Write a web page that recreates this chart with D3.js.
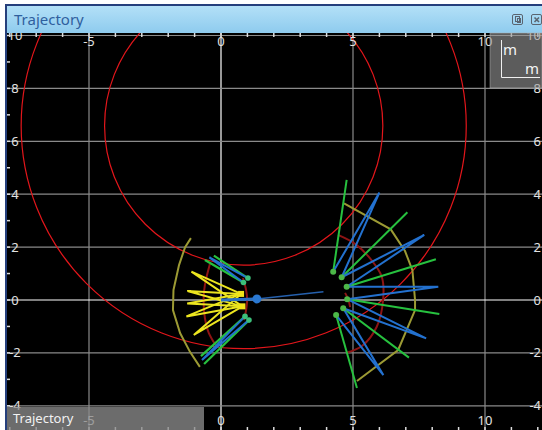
<!DOCTYPE html>
<html><head><meta charset="utf-8">
<script src="https://cdn.jsdelivr.net/npm/d3@7"></script>
<style>
html,body{margin:0;padding:0;background:#fff;overflow:hidden;}
svg{display:block;}
text{font-family:"Noto Sans","DejaVu Sans",sans-serif;}
</style></head><body>
<svg id="c" width="542" height="430"></svg>
<script>
// ---------- data ----------
const xTicks = [-5, 0, 5, 10];
const yTicks = [-4, -2, 0, 2, 4, 6, 8, 10];
const xMinor = [-8,-7,-6,-5,-4,-3,-2,-1,0,1,2,3,4,5,6,7,8,9,10,11,12];
const yMinor = [-4,-3,-2,-1,0,1,2,3,4,5,6,7,8,9,10];

const circleCenter = [0.86, 6.59];
const circleRadii = [8.43, 5.27];

// left cluster
const leftYellowOrigins = [[0.76, 0.23], [0.81, -0.24]];
const leftYellowEnds = [[-1.12, 1.07], [-1.27, 0.34], [-1.28, -0.13], [-1.31, -0.62], [-1.03, -1.32]];
const leftUpperOrigins = [[1.02, 0.83], [0.85, 0.66]];
const leftUpperGreenEnds = [[-0.27, 1.68], [-0.61, 1.51]];
const leftUpperBlueEnd = [-0.44, 1.61];
const leftLowerOrigins = [[0.91, -0.62], [1.06, -0.76]];
const leftLowerGreenEnds = [[-0.76, -2.12], [-0.64, -2.42]];
const leftLowerBlueEnd = [-0.72, -2.27];
const leftOlive = [[-1.14, 2.34], [-1.36, 2.00], [-1.59, 1.32], [-1.80, 0.38], [-1.82, -0.38], [-1.55, -1.25], [-1.17, -1.97], [-0.80, -2.53]];
const leftArcOuter = [[-0.42, 1.36], [-0.61, 0.57], [-0.66, 0], [-0.61, -0.68], [-0.46, -1.25], [-0.15, -1.78]];
const leftArcInner = [[0.83, 0.83], [0.95, 0.38], [0.99, 0], [0.95, -0.38], [0.87, -0.76]];

// trajectory
const trajHead = [[0.0, 0.0], [1.36, 0.04]];
const trajTail = [[1.36, 0.04], [3.88, 0.31]];
const trajDot = [1.36, 0.04];

// right cluster
const rightOrigins = [[4.25, 1.07], [4.57, 0.86], [4.76, 0.50], [4.78, 0.03], [4.63, -0.31], [4.36, -0.57]];
const rightGreenEnds = [[4.76, 4.54], [7.06, 3.32], [8.14, 1.54], [8.27, -0.53], [7.12, -2.18], [5.15, -3.33]];
const rightBlueEnds = [[6.00, 4.06], [7.70, 2.46], [8.23, 0.50], [7.77, -1.45], [6.15, -2.84]];
const rightOlive = [[4.66, 3.65], [6.43, 2.67], [6.97, 1.85], [7.25, 1.13], [7.35, 0], [7.35, -0.38], [6.71, -1.89], [5.15, -3.06]];
const rightArcOuter = [[4.43, 2.46], [5.08, 2.12], [5.64, 1.58], [6.09, 0.88], [6.14, 0], [5.90, -1.01], [5.34, -1.74], [4.76, -1.99]];
const rightArcInner = [[4.70, 0.27], [4.83, 0], [4.89, -0.27]];

// ---------- layout ----------
const svg = d3.select("#c");
const W = 542, H = 430;
const plot = {x0: 7, y0: 33, x1: 542, y1: 430};
const x = d3.scaleLinear().domain([-5, 10]).range([89, 485]);
const y = d3.scaleLinear().domain([-4, 10]).range([405.8, 35.5]);

const defs = svg.append("defs");
const grad = defs.append("linearGradient").attr("id", "tb").attr("x1", 0).attr("y1", 0).attr("x2", 0).attr("y2", 1);
grad.append("stop").attr("offset", "0%").attr("stop-color", "#b3e0f7");
grad.append("stop").attr("offset", "100%").attr("stop-color", "#8ecbee");
defs.append("clipPath").attr("id", "pc").append("rect")
  .attr("x", plot.x0).attr("y", plot.y0).attr("width", plot.x1 - plot.x0).attr("height", plot.y1 - plot.y0);

// window frame
svg.append("rect").attr("x", 0).attr("y", 0).attr("width", W).attr("height", H).attr("fill", "#ffffff");
svg.append("rect").attr("x", 5).attr("y", 4).attr("width", W - 5).attr("height", H - 4).attr("fill", "#253f7c");
svg.append("rect").attr("x", 7).attr("y", 6).attr("width", W - 7).attr("height", 27).attr("fill", "url(#tb)");
svg.append("text").attr("x", 14).attr("y", 25).attr("font-size", 15).attr("fill", "#2f5f9e").text("Trajectory");
// title icons
const ic = svg.append("g").attr("fill", "none").attr("stroke", "#5a6470").attr("stroke-width", 1);
ic.append("rect").attr("x", 512.5).attr("y", 14.5).attr("width", 10).attr("height", 10).attr("rx", 1.5);
ic.append("rect").attr("x", 515.5).attr("y", 16.5).attr("width", 4).attr("height", 5);
ic.append("rect").attr("x", 517.5).attr("y", 18.5).attr("width", 3).attr("height", 4);
ic.append("rect").attr("x", 531.5).attr("y", 14.5).attr("width", 10).attr("height", 10).attr("rx", 1.5);
ic.append("path").attr("d", "M534.5,17.5L539,22M539,17.5L534.5,22").attr("stroke-width", 1.6);

// plot background
svg.append("rect").attr("x", plot.x0).attr("y", plot.y0).attr("width", plot.x1 - plot.x0).attr("height", plot.y1 - plot.y0).attr("fill", "#000");

const g = svg.append("g").attr("clip-path", "url(#pc)");

// grid
g.selectAll(".gx").data(xTicks).join("line")
  .attr("x1", d => x(d)).attr("x2", d => x(d)).attr("y1", plot.y0).attr("y2", plot.y1)
  .attr("stroke", d => d === 0 ? "#ffffff" : "#8a8a8a").attr("stroke-width", 1.2);
g.selectAll(".gy").data(yTicks).join("line")
  .attr("y1", d => y(d)).attr("y2", d => y(d)).attr("x1", plot.x0).attr("x2", plot.x1)
  .attr("stroke", d => d === 0 ? "#ffffff" : "#8a8a8a").attr("stroke-width", 1.2);
// minor ticks
g.selectAll(".mt").data(xMinor).join("line")
  .attr("x1", d => x(d)).attr("x2", d => x(d)).attr("y1", plot.y0).attr("y2", plot.y0 + 4)
  .attr("stroke", "#dddddd").attr("stroke-width", 1.5);
g.selectAll(".mb").data(xMinor).join("line")
  .attr("x1", d => x(d)).attr("x2", d => x(d)).attr("y1", plot.y1 - 3).attr("y2", plot.y1)
  .attr("stroke", "#dddddd").attr("stroke-width", 1.5);
g.selectAll(".ml").data(yMinor).join("line")
  .attr("y1", d => y(d)).attr("y2", d => y(d)).attr("x1", plot.x0).attr("x2", plot.x0 + 3)
  .attr("stroke", "#dddddd").attr("stroke-width", 1.5);

// red circles
g.selectAll(".circ").data(circleRadii).join("ellipse")
  .attr("cx", x(circleCenter[0])).attr("cy", y(circleCenter[1]))
  .attr("rx", r => x(circleCenter[0] + r) - x(circleCenter[0]))
  .attr("ry", r => y(circleCenter[1] - r) - y(circleCenter[1]))
  .attr("fill", "none").attr("stroke", "#e3161b").attr("stroke-width", 1.2);

const lineC = d3.line().x(d => x(d[0])).y(d => y(d[1])).curve(d3.curveCatmullRom);
const lineL = d3.line().x(d => x(d[0])).y(d => y(d[1]));

// dark red arcs
[leftArcOuter, leftArcInner, rightArcOuter, rightArcInner].forEach(a => {
  g.append("path").attr("d", lineC(a)).attr("fill", "none").attr("stroke", "#8e1414").attr("stroke-width", 2);
});

// olive fronts
[leftOlive, rightOlive].forEach(a => {
  g.append("path").attr("d", lineL(a)).attr("fill", "none").attr("stroke", "#9c9a34").attr("stroke-width", 2);
});

// yellow wedges
leftYellowEnds.forEach(e => {
  g.append("path").attr("d", lineL([leftYellowOrigins[0], e, leftYellowOrigins[1]]))
    .attr("fill", "none").attr("stroke", "#ece51f").attr("stroke-width", 2).attr("stroke-linejoin", "miter");
});

// trajectory
g.append("path").attr("d", lineL(trajHead)).attr("stroke", "#2a6fc4").attr("stroke-width", 3).attr("fill", "none");
g.append("path").attr("d", lineL(trajTail)).attr("stroke", "#2560ad").attr("stroke-width", 1.6).attr("fill", "none");
g.append("circle").attr("cx", x(trajDot[0])).attr("cy", y(trajDot[1])).attr("r", 4.5).attr("fill", "#2a78d2");

// left green / blue rays
const GREEN = "#27c13f", BLUE = "#2371cf";
leftUpperOrigins.forEach((o, i) => {
  g.append("path").attr("d", lineL([o, leftUpperGreenEnds[i]])).attr("stroke", GREEN).attr("stroke-width", 2.2).attr("fill", "none");
});
leftLowerOrigins.forEach((o, i) => {
  g.append("path").attr("d", lineL([o, leftLowerGreenEnds[i]])).attr("stroke", GREEN).attr("stroke-width", 2.2).attr("fill", "none");
});
g.append("path").attr("d", lineL([leftUpperOrigins[0], leftUpperBlueEnd, leftUpperOrigins[1]]))
  .attr("stroke", BLUE).attr("stroke-width", 2).attr("fill", "none");
g.append("path").attr("d", lineL([leftLowerOrigins[0], leftLowerBlueEnd, leftLowerOrigins[1]]))
  .attr("stroke", BLUE).attr("stroke-width", 2).attr("fill", "none");

// right green rays
rightOrigins.forEach((o, i) => {
  g.append("path").attr("d", lineL([o, rightGreenEnds[i]])).attr("stroke", GREEN).attr("stroke-width", 2).attr("fill", "none");
});
// right blue wedges
rightBlueEnds.forEach((e, i) => {
  g.append("path").attr("d", lineL([rightOrigins[i], e, rightOrigins[i + 1]]))
    .attr("stroke", BLUE).attr("stroke-width", 2).attr("fill", "none").attr("stroke-linejoin", "miter");
});

// origin markers
g.selectAll(".ro").data(rightOrigins).join("circle")
  .attr("cx", d => x(d[0])).attr("cy", d => y(d[1])).attr("r", 3).attr("fill", "#4cb848");
g.selectAll(".lo").data(leftUpperOrigins.concat(leftLowerOrigins)).join("circle")
  .attr("cx", d => x(d[0])).attr("cy", d => y(d[1])).attr("r", 2.8).attr("fill", "#3cbf7a");
g.selectAll(".yo").data(leftYellowOrigins).join("rect")
  .attr("x", d => x(d[0]) - 3).attr("y", d => y(d[1]) - 3).attr("width", 6).attr("height", 6).attr("fill", "#f2e41a");

// tick labels
const lab = g.append("g").attr("fill", "#e2e2e2").attr("font-size", 13);
lab.selectAll(".lt").data(xTicks).join("text").attr("x", d => x(d)).attr("y", 46)
  .attr("text-anchor", "middle").text(d => d);
lab.selectAll(".lb").data(xTicks).join("text").attr("x", d => x(d)).attr("y", 425)
  .attr("text-anchor", "middle").text(d => d);
lab.selectAll(".ll").data(yTicks).join("text").attr("x", 15).attr("y", d => y(d) + 4.5)
  .attr("text-anchor", "middle").text(d => d);
lab.selectAll(".lr").data(yTicks).join("text").attr("x", 541).attr("y", d => y(d) + 4.5)
  .attr("text-anchor", "end").text(d => d);

// unit overlay (top-right)
svg.append("rect").attr("x", 490).attr("y", 33).attr("width", 52).attr("height", 55)
  .attr("fill", "#9a9a9a").attr("fill-opacity", 0.6).attr("stroke", "#b0b0b0").attr("stroke-opacity", 0.5);
svg.append("path").attr("d", "M501.5,40V77.5H540").attr("stroke", "#f0f0f0").attr("stroke-width", 1).attr("fill", "none");
svg.append("text").attr("x", 503).attr("y", 55).attr("font-size", 15).attr("fill", "#f4f4f4").text("m");
svg.append("text").attr("x", 525).attr("y", 74).attr("font-size", 15).attr("fill", "#f4f4f4").text("m");

// bottom-left legend box
svg.append("rect").attr("x", 7).attr("y", 407).attr("width", 197).attr("height", 23)
  .attr("fill", "#8a8a8a").attr("fill-opacity", 0.78);
svg.append("text").attr("x", 13).attr("y", 423).attr("font-size", 13).attr("fill", "#f2f2f2").text("Trajectory");
</script></body></html>
